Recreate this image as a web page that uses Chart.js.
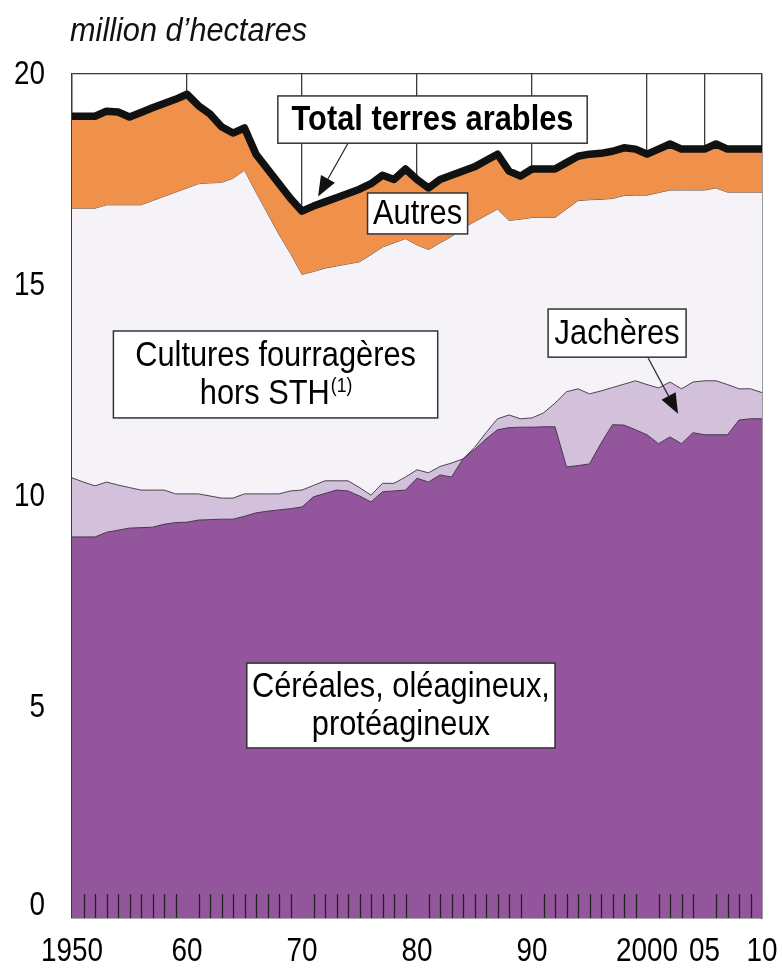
<!DOCTYPE html>
<html>
<head>
<meta charset="utf-8">
<script src="https://cdn.jsdelivr.net/npm/chart.js@4/dist/chart.umd.min.js"></script>
<style>
  html, body { margin: 0; padding: 0; background: #fff; }
  #wrap { width: 782px; height: 972px; }
</style>
</head>
<body>
<div id="wrap"><canvas id="chart"></canvas></div>
<script>
// années 1950 - 2010
const years = [];
for (let y = 1950; y <= 2010; y++) years.push(y);

// bord supérieur de chaque zone (million d'hectares)
const cereales = [9.03, 9.03, 9.03, 9.14, 9.19, 9.24, 9.25, 9.26, 9.33, 9.37,
  9.38, 9.43, 9.44, 9.45, 9.45, 9.52, 9.6, 9.64, 9.67, 9.7,
  9.74, 9.98, 10.06, 10.14, 10.12, 10.0, 9.86, 10.1, 10.12, 10.14,
  10.42, 10.33, 10.5, 10.45, 10.88, 11.1, 11.35, 11.57, 11.62, 11.63,
  11.63, 11.64, 11.64, 10.69, 10.72, 10.76, 11.25, 11.69, 11.68, 11.57,
  11.45, 11.24, 11.4, 11.24, 11.5, 11.45, 11.45, 11.45, 11.8, 11.83, 11.83];

const jacheres = [10.43, 10.33, 10.24, 10.33, 10.26, 10.2, 10.14, 10.14, 10.14, 10.05,
  10.05, 10.05, 10.0, 9.95, 9.95, 10.05, 10.05, 10.05, 10.05, 10.12,
  10.14, 10.25, 10.36, 10.36, 10.36, 10.2, 10.02, 10.3, 10.3, 10.45,
  10.62, 10.55, 10.7, 10.78, 10.88, 11.15, 11.5, 11.83, 11.92, 11.83,
  11.85, 11.97, 12.2, 12.47, 12.54, 12.42, 12.49, 12.57, 12.65, 12.73,
  12.64, 12.56, 12.7, 12.54, 12.7, 12.73, 12.73, 12.64, 12.54, 12.54, 12.45];

const fourrageres = [16.82, 16.82, 16.82, 16.9, 16.9, 16.9, 16.9, 17.0, 17.1, 17.2,
  17.3, 17.4, 17.42, 17.43, 17.53, 17.72, 17.2, 16.7, 16.2, 15.75,
  15.25, 15.32, 15.4, 15.45, 15.5, 15.55, 15.72, 15.9, 16.0, 16.1,
  15.95, 15.84, 16.0, 16.15, 16.35, 16.5, 16.65, 16.8, 16.53, 16.56,
  16.6, 16.6, 16.6, 16.8, 17.0, 17.02, 17.03, 17.05, 17.12, 17.13,
  17.13, 17.19, 17.25, 17.25, 17.25, 17.25, 17.3, 17.2, 17.2, 17.2, 17.2];

const total = [19.0, 19.0, 19.0, 19.12, 19.1, 18.98, 19.09, 19.2, 19.3, 19.4,
  19.52, 19.25, 19.05, 18.75, 18.6, 18.72, 18.1, 17.75, 17.4, 17.05,
  16.75, 16.87, 16.97, 17.07, 17.17, 17.27, 17.4, 17.6, 17.5, 17.75,
  17.5, 17.3, 17.5, 17.6, 17.7, 17.8, 17.95, 18.1, 17.7, 17.58,
  17.75, 17.75, 17.75, 17.9, 18.05, 18.1, 18.12, 18.17, 18.25, 18.22,
  18.1, 18.22, 18.34, 18.22, 18.22, 18.22, 18.34, 18.22, 18.22, 18.22, 18.22];

const xTicks = [1950, 1960, 1970, 1980, 1990, 2000, 2005, 2010];
const xTickLabels = ['1950', '60', '70', '80', '90', '2000', '05', '10'];
const yTicks = [0, 5, 10, 15, 20];

const FONT = "'Liberation Sans', Arial, sans-serif";
const GRID = '#3a3a3a';

function pts(arr) { return arr.map((v, i) => ({ x: years[i], y: v })); }

// texte étroit : police normale comprimée horizontalement
function txt(ctx, s, x, y, font, align, sx) {
  ctx.save();
  ctx.translate(x, y);
  ctx.scale(sx, 1);
  ctx.font = font;
  ctx.textAlign = align || 'center';
  ctx.textBaseline = 'middle';
  ctx.fillText(s, 0, 0);
  ctx.restore();
}
function txtWidth(ctx, s, font, sx) {
  ctx.save();
  ctx.font = font;
  const w = ctx.measureText(s).width * sx;
  ctx.restore();
  return w;
}

// étiquettes encadrées, en coordonnées des données
const boxes = [
  { x0: 1967.9, x1: 1994.8, y0: 19.48, y1: 18.36, lines: ['Total terres arables'], bold: true },
  { x0: 1975.7, x1: 1984.4, y0: 17.18, y1: 16.21, lines: ['Autres'] },
  { x0: 1953.6, x1: 1981.8, y0: 13.91, y1: 11.85, lines: ['Cultures fourragères', 'hors STH'], sup: '(1)' },
  { x0: 1991.4, x1: 2003.4, y0: 14.43, y1: 13.29, lines: ['Jachères'] },
  { x0: 1965.2, x1: 1992.0, y0: 6.04, y1: 4.03, lines: ['Céréales, oléagineux,', 'protéagineux'] }
];
const arrows = [
  { from: [1974.0, 18.36], to: [1971.4, 17.1] },
  { from: [2000.1, 13.27], to: [2002.7, 11.95] }
];

const decor = {
  id: 'decor',
  afterDraw(chart) {
    const { ctx, chartArea: a, scales: { x, y } } = chart;
    ctx.save();
    // petites graduations annuelles
    ctx.strokeStyle = '#222';
    ctx.lineWidth = 1.3;
    years.forEach(yr => {
      if (xTicks.includes(yr)) return;
      const px = Math.round(x.getPixelForValue(yr)) + 0.5;
      ctx.beginPath();
      ctx.moveTo(px, a.bottom);
      ctx.lineTo(px, a.bottom - 24);
      ctx.stroke();
    });

    // libellés des axes
    ctx.fillStyle = '#000';
    const tickFont = '34px ' + FONT;
    xTicks.forEach((v, i) => {
      txt(ctx, xTickLabels[i], x.getPixelForValue(v), a.bottom + 34, tickFont, 'center', 0.82);
    });
    yTicks.forEach(v => {
      const py = v === 0 ? a.bottom - 12 : y.getPixelForValue(v) + 1;
      txt(ctx, String(v), 45, py, tickFont, 'right', 0.82);
    });

    // flèches
    arrows.forEach(ar => {
      const fx = x.getPixelForValue(ar.from[0]), fy = y.getPixelForValue(ar.from[1]);
      const tx = x.getPixelForValue(ar.to[0]), ty = y.getPixelForValue(ar.to[1]);
      const ang = Math.atan2(ty - fy, tx - fx);
      const L = 20, W = 8;
      const bx = tx - L * Math.cos(ang), by = ty - L * Math.sin(ang);
      ctx.strokeStyle = '#333';
      ctx.lineWidth = 1.3;
      ctx.beginPath();
      ctx.moveTo(fx, fy);
      ctx.lineTo(bx, by);
      ctx.stroke();
      ctx.fillStyle = '#111';
      ctx.beginPath();
      ctx.moveTo(tx, ty);
      ctx.lineTo(bx + W * Math.sin(ang), by - W * Math.cos(ang));
      ctx.lineTo(bx - W * Math.sin(ang), by + W * Math.cos(ang));
      ctx.closePath();
      ctx.fill();
    });

    // boîtes
    const SX = 0.88;
    boxes.forEach(b => {
      const l = x.getPixelForValue(b.x0), r = x.getPixelForValue(b.x1);
      const t = y.getPixelForValue(b.y0), bt = y.getPixelForValue(b.y1);
      ctx.fillStyle = '#fff';
      ctx.fillRect(l, t, r - l, bt - t);
      ctx.strokeStyle = '#333';
      ctx.lineWidth = 1.5;
      ctx.strokeRect(l, t, r - l, bt - t);
      ctx.fillStyle = '#000';
      const f = (b.bold ? 'bold ' : '') + '35px ' + FONT;
      const cx = (l + r) / 2, h = bt - t, n = b.lines.length;
      const lh = 38;
      b.lines.forEach((s, i) => {
        const cy = t + h / 2 + (i - (n - 1) / 2) * lh + 1;
        if (b.sup && i === n - 1) {
          const fs = '20px ' + FONT;
          const w1 = txtWidth(ctx, s, f, SX), w2 = txtWidth(ctx, b.sup, fs, SX);
          const sx = cx - (w1 + w2) / 2;
          txt(ctx, s, sx, cy, f, 'left', SX);
          txt(ctx, b.sup, sx + w1 + 1, cy - 8, fs, 'left', SX);
        } else {
          txt(ctx, s, cx, cy, f, 'center', SX);
        }
      });
    });

    // unité
    ctx.fillStyle = '#111';
    txt(ctx, 'million d\u2019hectares', 70, 32, 'italic 33px ' + FONT, 'left', 0.93);
    ctx.restore();
  }
};

new Chart(document.getElementById('chart'), {
  type: 'line',
  data: {
    datasets: [
      { label: 'Céréales, oléagineux, protéagineux', data: pts(cereales), fill: 'origin',
        backgroundColor: '#93559b', borderColor: '#4a3550', borderWidth: 1 },
      { label: 'Jachères', data: pts(jacheres), fill: '-1',
        backgroundColor: '#d3c1dc', borderColor: '#4a4450', borderWidth: 1 },
      { label: 'Cultures fourragères hors STH', data: pts(fourrageres), fill: '-1',
        backgroundColor: '#f5f3f8', borderColor: '#555', borderWidth: 1 },
      { label: 'Total terres arables', data: pts(total), fill: '-1', order: -1,
        backgroundColor: '#f0914b', borderColor: '#111', borderWidth: 7.5,
        borderJoinStyle: 'round', borderCapStyle: 'butt' }
    ]
  },
  options: {
    responsive: true,
    maintainAspectRatio: false,
    animation: false,
    elements: { point: { radius: 0 }, line: { tension: 0 } },
    layout: { padding: { top: 74, right: 20, left: 0, bottom: 0 } },
    scales: {
      x: {
        type: 'linear', min: 1950, max: 2010, z: 1,
        afterBuildTicks: s => { s.ticks = xTicks.map(v => ({ value: v })); },
        afterFit: s => { s.height = 54; },
        grid: { color: GRID, lineWidth: 1.3, drawTicks: false },
        border: { display: true, color: GRID, width: 1.3 },
        ticks: { display: false }
      },
      y: {
        min: 0, max: 20, z: 1,
        afterBuildTicks: s => { s.ticks = yTicks.map(v => ({ value: v })); },
        afterFit: s => { s.width = 72; },
        grid: { color: GRID, lineWidth: 1.3, drawTicks: false },
        border: { display: true, color: GRID, width: 1.3 },
        ticks: { display: false }
      },
      y2: {
        position: 'right', min: 0, max: 20, z: 1,
        afterFit: s => { s.width = 0; },
        grid: { display: false },
        border: { display: true, color: GRID, width: 1.3 },
        ticks: { display: false }
      }
    },
    plugins: { legend: { display: false }, tooltip: { enabled: false } }
  },
  plugins: [decor]
});
</script>
</body>
</html>
